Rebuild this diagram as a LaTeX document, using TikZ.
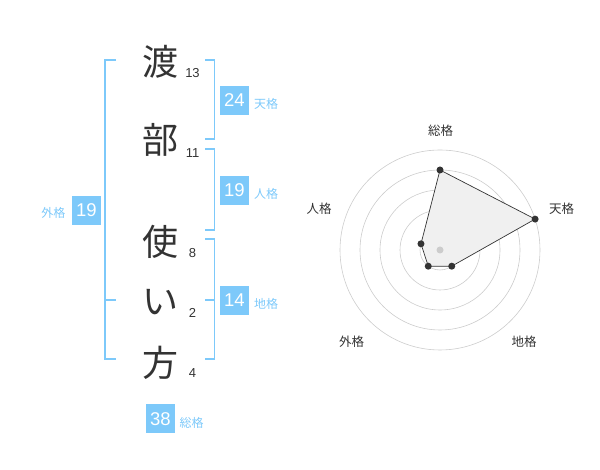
\documentclass[tikz,border=0pt]{standalone}
\usepackage{fontspec}
\setmainfont{Liberation Sans}
\newfontfamily\jpfont{Noto Sans CJK JP}
\definecolor{kaku}{RGB}{125,201,250}
\definecolor{ink}{RGB}{51,51,51}

\begin{document}
\begin{tikzpicture}
 [
  x=1pt, y=1pt,
  kanji/.style     = {text = ink, font = \jpfont\fontsize{36}{36}\selectfont, inner sep = 0pt},
  stroke/.style    = {text = ink, font = \fontsize{13}{13}\selectfont, inner sep = 0pt},
  kakubox/.style   = {fill = kaku, text = white, minimum size = 29pt, inner sep = 0pt,
                      font = \fontsize{18.5}{18.5}\selectfont},
  kakulabel/.style = {text = kaku, font = \jpfont\fontsize{12}{12}\selectfont, inner sep = 0pt},
  bracket/.style   = {draw = kaku, line width = 1.6pt},
  ring/.style      = {draw = black!20, line width = .6pt},
  point/.style     = {circle, fill = ink, inner sep = 0pt, minimum size = 7pt},
  axis/.style      = {text = ink, font = \jpfont\fontsize{12.5}{12.5}\selectfont, inner sep = 0pt},
 ]
 \useasboundingbox (0,0) rectangle (600,470);

 % the name, one character per row, stroke count beside it
 \foreach \n/\c/\y/\s/\t in {1/渡/408/13/397, 2/部/330/11/317, 3/使/228/8/217, 4/い/168/2/157, 5/方/107/4/97}
 {
  \node[kanji] (c\n) at (160,\y) {\c};
  \node[stroke] (s\n) at (192.5,\t) {\s};
 }

 % brackets
 \draw[bracket] (116,410) -- (105,410) -- (105,110.7) -- (116,110.7);
 \draw[bracket] (105,170) -- (116,170);
 \draw[bracket] (205,410) -- (214.3,410) -- (214.3,330.7) -- (205,330.7);
 \draw[bracket] (205,320.7) -- (214.3,320.7) -- (214.3,240) -- (205,240);
 \draw[bracket] (205,230.7) -- (214.3,230.7) -- (214.3,110.7) -- (205,110.7);
 \draw[bracket] (205,170) -- (214.3,170);

 % the five kaku
 \foreach \k/\v/\x/\y/\lx/\ly/\l in {ten/24/234.5/369.5/266/366/天格, jin/19/234.5/279.5/266/276/人格,
   chi/14/234.5/169.5/266/166/地格, gai/19/86.3/259.7/53.3/256.7/外格, sou/38/160.3/51/191.7/47.3/総格}
 {
  \node[kakubox] (\k) at (\x,\y) {\v};
  \node[kakulabel] (\k-l) at (\lx,\ly) {\l};
 }

 % radar chart
 \begin{scope}[shift={(440,220)}]
  \foreach \r in {20,40,...,100}
   \draw[ring] (0,0) circle (\r pt);
  \fill[black!6] (90:80pt) -- (18:100pt) -- (-54:20pt) -- (-126:20pt) -- (162:20pt) -- cycle;
  \draw[ink, line width=.7pt] (90:80pt) -- (18:100pt) -- (-54:20pt) -- (-126:20pt) -- (162:20pt) -- cycle;
  \node[circle, fill=black!20, inner sep=0pt, minimum size=7pt] (o) at (0,0) {};
  \foreach \k/\a/\r in {sou/90/80, ten/18/100, chi/-54/20, gai/-126/20, jin/162/20}
   \node[point] (p-\k) at (\a:\r pt) {};
 \end{scope}

 \node[axis] (a-sou) at (440.7,339.3) {総格};
 \node[axis] (a-ten) at (561.7,261) {天格};
 \node[axis] (a-jin) at (319,261) {人格};
 \node[axis] (a-gai) at (351.7,128) {外格};
 \node[axis] (a-chi) at (524,128) {地格};
\end{tikzpicture}
\end{document}
